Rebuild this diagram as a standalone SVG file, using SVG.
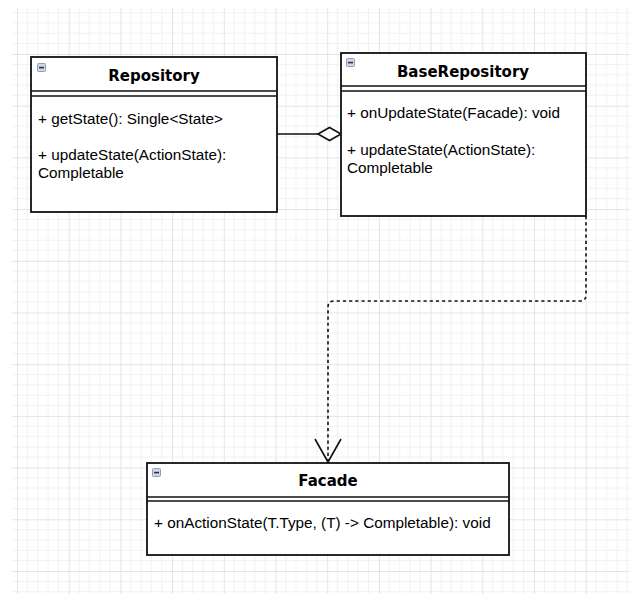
<svg xmlns="http://www.w3.org/2000/svg" width="630" height="594" viewBox="0 0 630 594">
  <defs>
    <pattern id="grid" patternUnits="userSpaceOnUse" x="17" y="2.3" width="51.7" height="51.7">
      <g stroke="#f1f1f1" stroke-width="1" fill="none">
        <path d="M10.34 0V51.7M20.68 0V51.7M31.02 0V51.7M41.36 0V51.7"/>
        <path d="M0 10.34H51.7M0 20.68H51.7M0 31.02H51.7M0 41.36H51.7"/>
      </g>
      <path d="M0.5 0V51.7M0 0.5H51.7" stroke="#e4e4e4" stroke-width="1" fill="none"/>
    </pattern>
    <g id="collapse">
      <rect x="0.5" y="0.5" width="8" height="8" rx="1" fill="#cdd7e6" stroke="#8c9db6" stroke-width="1"/>
      <rect x="2" y="3.8" width="5" height="1.6" fill="#333"/>
    </g>
  </defs>
  <style>
    .box { fill: #fff; stroke: #111; stroke-width: 1.8; }
    .sep { stroke: #111; stroke-width: 1.6; fill: none; }
    .title { font-family: "DejaVu Sans", Verdana, sans-serif; font-weight: bold; font-size: 15px; fill: #000; text-anchor: middle; }
    .member { font-family: "Liberation Sans", Arial, Helvetica, sans-serif; font-size: 15.3px; fill: #000; }
    .edge { stroke: #111; stroke-width: 1.6; fill: none; }
  </style>

  <rect width="630" height="594" fill="#fff"/>
  <rect x="12" y="8" width="618" height="586" fill="url(#grid)"/>

  <g id="connectors">
    <!-- aggregation: Repository -> BaseRepository -->
    <path class="edge" d="M277 134H318"/>
    <path class="edge" d="M318 134L329.5 127.5L341 134L329.5 140.5Z" fill="#fff" style="fill:#fff"/>
    <!-- dependency: BaseRepository -> Facade -->
    <path class="edge" d="M586 216V295Q586 301 580 301H334Q328 301 328 307V461" stroke-dasharray="3.2 3"/>
    <path class="edge" d="M315 439L328 462L341 439"/>
  </g>

  <g id="Repository">
    <rect class="box" x="31" y="57" width="246" height="155"/>
    <path class="sep" d="M31 91H277M31 96H277"/>
    <use href="#collapse" x="37" y="63"/>
    <text class="title" x="154" y="80.5">Repository</text>
    <text class="member" x="38" y="124">+ getState(): Single&lt;State&gt;</text>
    <text class="member" x="38" y="160">+ updateState(ActionState):</text>
    <text class="member" x="38" y="178">Completable</text>
  </g>

  <g id="BaseRepository">
    <rect class="box" x="341" y="53" width="245" height="163"/>
    <path class="sep" d="M341 86H586M341 91H586"/>
    <use href="#collapse" x="346" y="58"/>
    <text class="title" x="463" y="76.5">BaseRepository</text>
    <text class="member" x="347" y="118">+ onUpdateState(Facade): void</text>
    <text class="member" x="347" y="155">+ updateState(ActionState):</text>
    <text class="member" x="347" y="173">Completable</text>
  </g>

  <g id="Facade">
    <rect class="box" x="147" y="463" width="362" height="92"/>
    <path class="sep" d="M147 497H509M147 501H509"/>
    <use href="#collapse" x="152" y="468"/>
    <text class="title" x="328" y="486">Facade</text>
    <text class="member" x="154" y="528">+ onActionState(T.Type, (T) -&gt; Completable): void</text>
  </g>
</svg>
